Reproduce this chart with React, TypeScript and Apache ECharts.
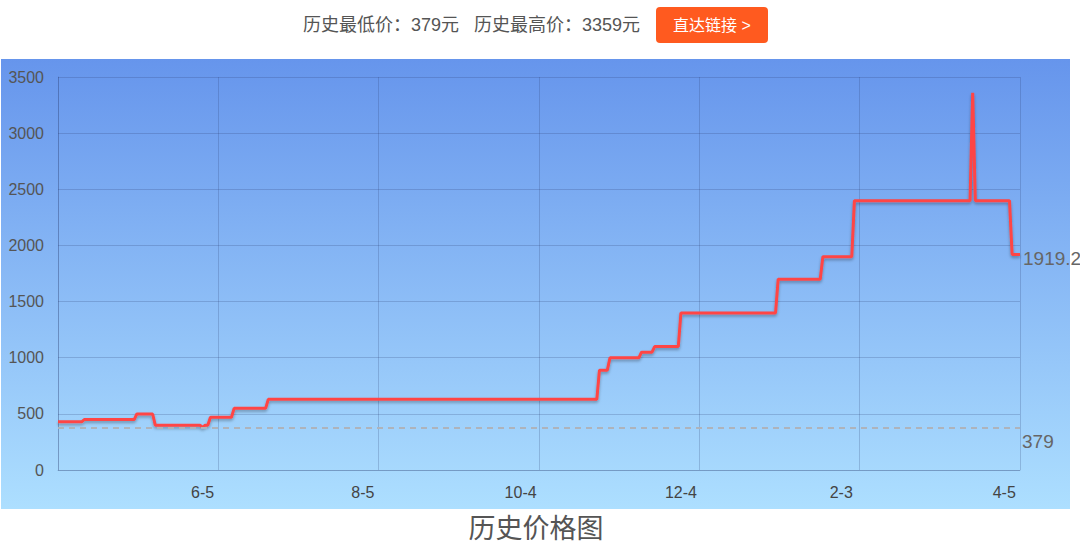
import { useEffect, useRef } from 'react';
import * as echarts from 'echarts';

// 价格变化点：距起始日(4-11)的天数 与 当日价格
const priceDays = [0, 9, 10, 29, 30, 36, 37, 54, 55, 56, 57, 58, 66, 67, 79, 80, 205, 206, 209, 210, 221, 222, 226, 227, 236, 237, 273, 274, 290, 291, 302, 303, 347, 348, 349, 362, 363, 366];
const prices = [429, 429, 449, 449, 499, 499, 399, 399, 379, 399, 399, 469, 469, 549, 549, 629, 629, 889, 889, 999, 999, 1049, 1049, 1099, 1099, 1399, 1399, 1699, 1699, 1899, 1899, 2399, 2399, 3359, 2399, 2399, 1919.2, 1919.2];

// x 轴标签
const dateLabels = ['6-5', '8-5', '10-4', '12-4', '2-3', '4-5'];
const dateLabelDays = [55, 116, 176, 237, 298, 360];

const FONT = '"Liberation Sans", Arial, "Noto Sans CJK SC", sans-serif';
const gridColor = 'rgba(40, 60, 110, 0.22)';

const App = () => {
  const chartDom = useRef<HTMLDivElement>(null);

  useEffect(() => {
    document.body.style.margin = '0';
    const chart = echarts.init(chartDom.current, null, { renderer: 'svg' });

    const lowPrice = Math.min(...prices);
    const highPrice = Math.max(...prices);

    const option = {
      animation: false,
      textStyle: { fontFamily: FONT },
      grid: { left: 58, right: 60, top: 77, bottom: 80 },
      graphic: [
        {
          type: 'rect',
          z: -100,
          silent: true,
          shape: { x: 1, y: 59, width: 1069, height: 450 },
          style: {
            fill: new echarts.graphic.LinearGradient(0, 0, 0, 1, [
              { offset: 0, color: '#6695ec' },
              { offset: 1, color: '#addfff' },
            ]),
          },
        },
        {
          type: 'text',
          x: 303,
          y: 25,
          style: {
            text: `历史最低价：${lowPrice}元   历史最高价：${highPrice}元`,
            fontSize: 18,
            fill: '#555',
            fontFamily: FONT,
            verticalAlign: 'middle',
          },
        },
        {
          type: 'rect',
          shape: { x: 656, y: 7, width: 112, height: 36, r: 4 },
          style: { fill: '#ff5a1f' },
        },
        {
          type: 'text',
          x: 712,
          y: 25,
          style: {
            text: '直达链接 >',
            fontSize: 16,
            fill: '#fff',
            fontFamily: FONT,
            align: 'center',
            verticalAlign: 'middle',
          },
        },
        {
          type: 'text',
          x: 536,
          y: 529,
          style: {
            text: '历史价格图',
            fontSize: 27,
            fill: '#555',
            fontFamily: FONT,
            align: 'center',
            verticalAlign: 'middle',
          },
        },
      ],
      xAxis: {
        type: 'value',
        min: 0,
        max: 366,
        interval: 61,
        axisLine: { show: true, lineStyle: { color: gridColor } },
        axisTick: { show: false },
        splitLine: { show: true, lineStyle: { color: gridColor } },
        axisLabel: {
          customValues: dateLabelDays,
          formatter: (v: number) => dateLabels[dateLabelDays.indexOf(v)] ?? '',
          color: '#444',
          fontSize: 16,
          margin: 14,
        },
      },
      yAxis: {
        type: 'value',
        min: 0,
        max: 3500,
        interval: 500,
        axisLine: { show: true, lineStyle: { color: gridColor } },
        axisTick: { show: false },
        splitLine: { show: true, lineStyle: { color: gridColor } },
        axisLabel: { color: '#555', fontSize: 16, margin: 14, formatter: (v: number) => String(v) },
      },
      series: [
        {
          type: 'line',
          data: priceDays.map((d, i) => [d, prices[i]]),
          symbol: 'none',
          clip: false,
          lineStyle: {
            color: '#ff4545',
            width: 3,
            shadowColor: 'rgba(0, 0, 0, 0.3)',
            shadowBlur: 3,
            shadowOffsetY: 2,
          },
          endLabel: {
            show: true,
            formatter: (p: any) => '\n' + String(p.value[1]),
            color: '#666',
            fontSize: 19,
            lineHeight: 8,
            distance: 3,
          },
          markLine: {
            silent: true,
            symbol: ['none', 'none'],
            data: [{ yAxis: lowPrice }],
            lineStyle: { type: [6, 5], color: '#aeb3bb', width: 2, opacity: 1 },
            label: {
              position: 'end',
              formatter: '\n' + String(lowPrice),
              color: '#666',
              fontSize: 19,
              lineHeight: 28,
              distance: 2,
            },
          },
        },
      ],
    };

    chart.setOption(option);
    return () => {
      chart.dispose();
    };
  }, []);

  return <div ref={chartDom} style={{ width: 1080, height: 550 }} />;
};

export default App;
